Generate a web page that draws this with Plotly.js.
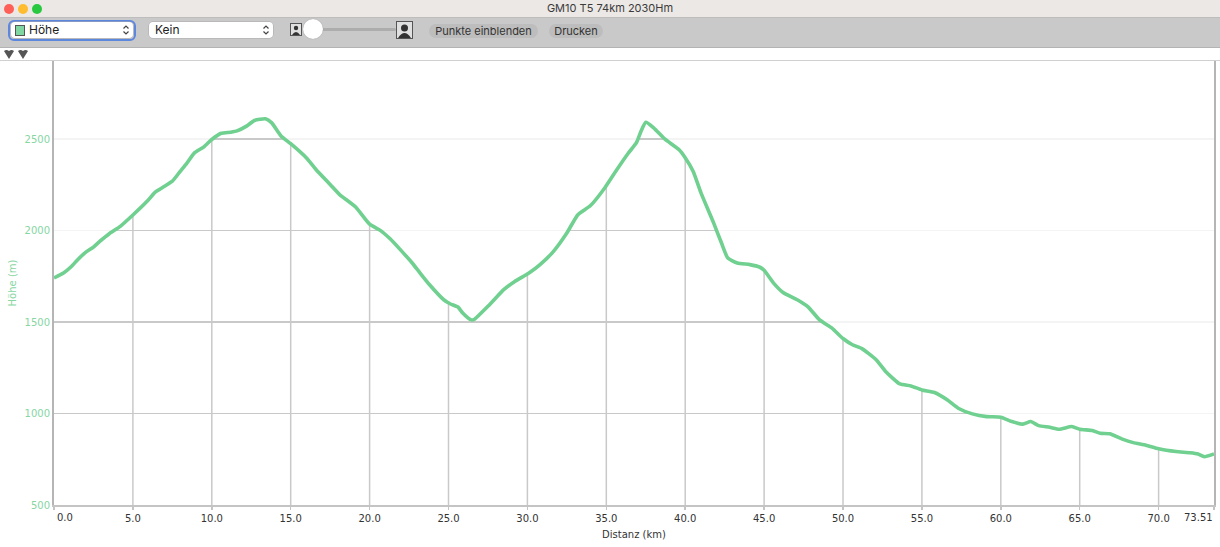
<!DOCTYPE html>
<html>
<head>
<meta charset="utf-8">
<script src="https://cdn.plot.ly/plotly-3.0.1.min.js"></script>
<style>
  html, body { margin:0; padding:0; width:1220px; height:547px; overflow:hidden; background:#fff; }
  .abs { position:absolute; }
  #titlebar { left:0; top:0; width:1220px; height:17px; background:#ebe8e5; border-bottom:1px solid #bdbdbd; }
  #titletext { left:0; top:0; width:1220px; height:17px; line-height:17px; text-align:center; font-family:Inter, "Noto Sans", sans-serif; font-size:11px; color:#3b3b3b; }
  .light { top:4px; width:10px; height:10px; border-radius:50%; }
  #toolbar { left:0; top:18px; width:1220px; height:29px; background:#c9c9c9; border-bottom:1px solid #b3b3b3; }
  .drop { background:#fff; border-radius:4px; font-family:Inter, "Noto Sans", sans-serif; font-size:12px; color:#222; box-shadow:0 0 0 0.5px #a9a9a9; }
  .btn { background:#bdbdbd; border-radius:7px; font-family:Inter, "Noto Sans", sans-serif; font-size:11px; color:#333; text-align:center; line-height:14px; }
  #strip { left:0; top:48px; width:1220px; height:12px; background:#fff; border-bottom:2px solid #d0d0d0; }
  #plot { left:0; top:61px; width:1220px; height:486px; }
</style>
</head>
<body>
<div id="titlebar" class="abs"></div>
<div id="titletext" class="abs">GM10 T5 74km 2030Hm</div>
<div class="abs light" style="left:4px;background:#fe5f57;"></div>
<div class="abs light" style="left:18px;background:#febc2e;"></div>
<div class="abs light" style="left:32px;background:#28c840;"></div>

<div id="toolbar" class="abs"></div>
<!-- dropdown 1 with focus ring -->
<div class="abs" style="left:8px;top:20px;width:124px;height:17px;border:2px solid #5d86df;border-radius:6px;"></div>
<div class="abs drop" style="left:11px;top:22px;width:122px;height:16px;"></div>
<div class="abs" style="left:15px;top:25px;width:8px;height:9px;background:#7fd6a0;border:1px solid #555;"></div>
<div class="abs" style="left:29px;top:22px;height:16px;line-height:16px;font-family:Inter,'Noto Sans',sans-serif;font-size:12px;color:#222;">Höhe</div>
<svg class="abs" style="left:122px;top:24px" width="8" height="12"><path d="M1.5 4.5 L4 2 L6.5 4.5 M1.5 7.5 L4 10 L6.5 7.5" stroke="#444" stroke-width="1.2" fill="none"/></svg>
<!-- dropdown 2 -->
<div class="abs drop" style="left:149px;top:22px;width:124px;height:16px;"></div>
<div class="abs" style="left:155px;top:22px;height:16px;line-height:16px;font-family:Inter,'Noto Sans',sans-serif;font-size:12px;color:#222;">Kein</div>
<svg class="abs" style="left:262px;top:24px" width="8" height="12"><path d="M1.5 4.5 L4 2 L6.5 4.5 M1.5 7.5 L4 10 L6.5 7.5" stroke="#444" stroke-width="1.2" fill="none"/></svg>
<!-- slider -->
<svg class="abs" style="left:290px;top:23px" width="12" height="13"><rect x="0.5" y="0.5" width="11" height="12" fill="#e0e0e0" stroke="#555"/><circle cx="6" cy="5" r="2.2" fill="#333"/><path d="M2 12 Q6 6 10 12 Z" fill="#333"/></svg>
<div class="abs" style="left:318px;top:28px;width:78px;height:3px;background:#adadad;border-radius:2px;"></div>
<div class="abs" style="left:303px;top:19px;width:20px;height:20px;border-radius:50%;background:#fff;box-shadow:0 0 1px #888;"></div>
<svg class="abs" style="left:396px;top:21px" width="17" height="18"><rect x="0.5" y="0.5" width="16" height="17" fill="#e0e0e0" stroke="#555"/><circle cx="8.5" cy="7" r="3.5" fill="#333"/><path d="M2 17 Q8.5 7 15 17 Z" fill="#333"/></svg>
<!-- buttons -->
<div class="abs btn" style="left:429px;top:24px;width:109px;height:14px;">Punkte einblenden</div>
<div class="abs btn" style="left:549px;top:24px;width:54px;height:14px;">Drucken</div>

<div id="strip" class="abs"></div>
<svg class="abs" style="left:3px;top:49px" width="30" height="12">
  <path d="M1 2 Q3.5 0 6 2 Q8.5 0 11 2 L6 10 Z" fill="#555"/>
  <path d="M15 2 Q17.5 0 20 2 Q22.5 0 25 2 L20 10 Z" fill="#555"/>
</svg>

<div id="plot" class="abs"></div>

<script>
// ---- data ----
const distanceKm = [0, 0.6, 1.1, 1.5, 2.0, 2.5, 2.9, 3.5, 4.2, 5.0, 5.9, 6.4, 7.0, 7.5, 8.0, 8.4, 8.9, 9.5, 10.0, 10.6,
  11.2, 11.6, 12.2, 12.7, 13.4, 13.8, 14.4, 15.0, 16.0, 16.6, 17.5, 18.1, 19.1, 20.0, 20.7, 21.3, 21.9, 22.7, 23.2, 23.8,
  24.7, 25.1, 25.6, 25.9, 26.4, 26.6, 27.6, 28.5, 29.2, 30.1, 30.8, 31.6, 32.5, 33.2, 34.0, 34.9, 35.6, 36.4, 36.9, 37.2,
  37.5, 38.0, 38.7, 39.6, 40.0, 40.5, 41.0, 41.8, 42.3, 42.7, 43.3, 44.1, 44.7, 45.0, 45.6, 46.2, 47.1, 47.8, 48.5, 49.3,
  50.0, 50.6, 51.2, 52.1, 52.7, 53.6, 54.3, 55.0, 55.8, 56.6, 57.3, 58.2, 59.1, 60.0, 60.7, 61.4, 61.9, 62.4, 63.1, 63.7,
  64.5, 65.0, 65.8, 66.3, 66.9, 67.7, 68.4, 69.2, 70.0, 71.1, 72.0, 72.5, 72.9, 73.51];
const elevationM = [1741, 1768, 1804, 1841, 1881, 1910, 1941, 1983, 2023, 2085, 2160, 2209, 2242, 2270, 2324, 2366, 2425, 2458, 2498, 2532,
  2538, 2545, 2571, 2602, 2611, 2589, 2516, 2475, 2397, 2334, 2252, 2197, 2130, 2035, 2000, 1955, 1900, 1823, 1768, 1704,
  1622, 1600, 1582, 1549, 1513, 1513, 1595, 1677, 1722, 1768, 1814, 1881, 1987, 2087, 2137, 2233, 2324, 2424, 2479, 2543,
  2592, 2562, 2501, 2443, 2398, 2324, 2206, 2042, 1932, 1850, 1823, 1814, 1801, 1783, 1713, 1662, 1622, 1582, 1513, 1467,
  1410, 1376, 1355, 1294, 1230, 1162, 1151, 1129, 1115, 1075, 1029, 998, 983, 980, 956, 942, 956, 934, 925, 914,
  929, 914, 907, 892, 889, 860, 841, 827, 807, 792, 786, 779, 764, 779];
const xTickVals = [0, 5, 10, 15, 20, 25, 30, 35, 40, 45, 50, 55, 60, 65, 70, 73.51];
const xTickText = ['0.0', '5.0', '10.0', '15.0', '20.0', '25.0', '30.0', '35.0', '40.0', '45.0', '50.0', '55.0', '60.0', '65.0', '70.0', '73.51'];
const yTickVals = [500, 1000, 1500, 2000, 2500];
const yRange = [500, 2927];

// ---- helpers ----
function interp(xs, ys, x) {
  for (let i = 0; i < xs.length - 1; i++) {
    if (x >= xs[i] && x <= xs[i + 1]) {
      const t = (x - xs[i]) / (xs[i + 1] - xs[i]);
      return ys[i] + t * (ys[i + 1] - ys[i]);
    }
  }
  return ys[ys.length - 1];
}

// vertical grid drop lines from the axis up to the curve
const dropX = [], dropY = [];
xTickVals.slice(1, -1).forEach(v => {
  dropX.push(v, v, null);
  dropY.push(yRange[0], interp(distanceKm, elevationM, v), null);
});

const green = '#6fd08f';
const gridCol = '#c9c9c9';
const xEnd = distanceKm[distanceKm.length - 1];

const traces = [
  { x: dropX, y: dropY, mode: 'lines', line: { color: gridCol, width: 1.5 }, hoverinfo: 'skip', showlegend: false },
  { x: distanceKm, y: elevationM, mode: 'lines', line: { width: 0, color: 'rgba(0,0,0,0)', shape: 'spline', smoothing: 0.5 }, hoverinfo: 'skip', showlegend: false },
  { x: [0, xEnd], y: [yRange[1], yRange[1]], mode: 'lines', line: { width: 0, color: 'rgba(0,0,0,0)' },
    fill: 'tonexty', fillcolor: 'rgba(255,255,255,0.8)', hoverinfo: 'skip', showlegend: false },
  { x: distanceKm, y: elevationM, mode: 'lines', name: 'Höhe', line: { color: green, width: 3.6, shape: 'spline', smoothing: 0.5 }, showlegend: false }
];

const labelFont = { family: 'DejaVu Sans, Verdana, sans-serif', size: 10, color: '#333' };

const layout = {
  width: 1220, height: 486,
  margin: { l: 54, r: 6, t: 0, b: 42 },
  paper_bgcolor: '#fff', plot_bgcolor: '#fff',
  showlegend: false,
  xaxis: {
    range: [0, xEnd], tickvals: xTickVals,
    ticktext: xTickText.map((t, i) => (i === 0 || i === xTickText.length - 1) ? '' : t),
    showgrid: false, zeroline: false,
    showline: true, linecolor: '#c4c4c4', linewidth: 2,
    ticks: 'outside', ticklen: 3, tickcolor: '#c4c4c4', tickwidth: 1.5,
    tickfont: labelFont,
    title: { text: 'Distanz (km)', font: labelFont, standoff: 8 }
  },
  yaxis: {
    range: yRange, tickvals: yTickVals, ticktext: yTickVals.map(String),
    showgrid: true, gridcolor: gridCol, gridwidth: 1.5, zeroline: false,
    showline: true, linecolor: '#b5b5b5', linewidth: 2, mirror: true,
    ticks: '', tickfont: { family: 'DejaVu Sans, Verdana, sans-serif', size: 10, color: '#86d6a2' },
    title: { text: 'Höhe (m)', font: { family: 'DejaVu Sans, Verdana, sans-serif', size: 10, color: '#86d6a2' }, standoff: 6 }
  },
  annotations: [
    { x: xTickVals[0], xref: 'x', y: 0, yref: 'paper', text: xTickText[0], showarrow: false,
      xanchor: 'left', yanchor: 'top', yshift: -5, xshift: 1, font: labelFont },
    { x: xTickVals[xTickVals.length - 1], xref: 'x', y: 0, yref: 'paper', text: xTickText[xTickText.length - 1], showarrow: false,
      xanchor: 'right', yanchor: 'top', yshift: -5, xshift: 1, font: labelFont }
  ]
};

Plotly.newPlot('plot', traces, layout, { displayModeBar: false, staticPlot: true });
</script>
</body>
</html>
